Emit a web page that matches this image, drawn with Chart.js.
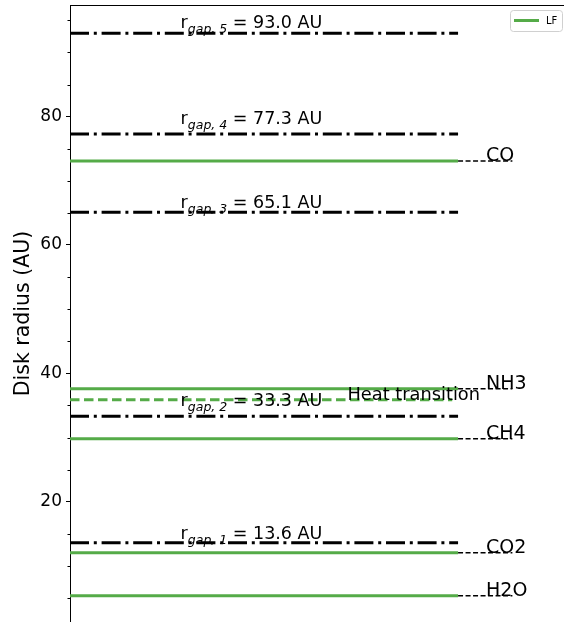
<!DOCTYPE html>
<html>
<head>
<meta charset="utf-8">
<script src="https://cdn.jsdelivr.net/npm/chart.js@4.4.1/dist/chart.umd.min.js"></script>
<style>
  html, body { margin: 0; padding: 0; background: #fff; overflow: hidden; }
  #wrap { width: 564px; height: 622px; position: relative; }
</style>
</head>
<body>
<div id="wrap"><canvas id="diskChart"></canvas></div>
<script>
// gap radii (AU) and where their labels sit
const gapIds = ['1', '2', '3', '4', '5'];
const gapRadii = [13.6, 33.3, 65.1, 77.3, 93.0];
const gapLabelAt = [14.2, 34.9, 65.8, 78.85, 93.8];

// ice lines for the LF model (AU)
const species = ['H2O', 'CO2', 'CH4', 'NH3', 'CO'];
const speciesRadii = [5.35, 12.05, 29.8, 37.6, 73.1];

const heatLabel = 'Heat transition';
const heatRadius = 35.9;

const majorTicks = [20, 40, 60, 80];
const minorTicks = [5, 10, 15, 25, 30, 35, 45, 50, 55, 65, 70, 75, 85, 90, 95];

const GREEN = '#55ab48';
const FONT = 'DejaVu Sans';

const datasets = [];

speciesRadii.forEach((r, i) => {
    datasets.push({
        label: i === 0 ? 'LF' : '_' + species[i],
        data: [{x: 0, y: r}, {x: 1, y: r}],
        borderColor: GREEN,
        borderWidth: 3,
        pointRadius: 0
    });
    // thin dashed leader out to the label
    datasets.push({
        label: '_lead' + i,
        data: [{x: 1, y: r}, {x: 1.14, y: r}],
        borderColor: '#000',
        borderWidth: 1.5,
        borderDash: [5, 2.5],
        pointRadius: 0
    });
});

datasets.push({
    label: '_heat',
    data: [{x: 0, y: heatRadius}, {x: 0.985, y: heatRadius}],
    borderColor: GREEN,
    borderWidth: 3,
    borderDash: [9.5, 4.5],
    pointRadius: 0
});

gapRadii.forEach((r, i) => {
    datasets.push({
        label: '_gap' + gapIds[i],
        data: [{x: 0, y: r}, {x: 1, y: r}],
        borderColor: '#000',
        borderWidth: 3,
        borderDash: [19, 4.8, 3, 4.8],
        borderCapStyle: 'butt',
        pointRadius: 0
    });
});

const textPlugin = {
    id: 'textPlugin',
    afterDatasetsDraw(chart) {
        const {ctx, chartArea, scales: {x, y}} = chart;
        ctx.save();

        // top spine
        ctx.strokeStyle = '#000';
        ctx.lineWidth = 1;
        ctx.beginPath();
        ctx.moveTo(chartArea.left, chartArea.top + 0.5);
        ctx.lineTo(chartArea.right, chartArea.top + 0.5);
        ctx.stroke();

        // minor ticks
        minorTicks.forEach(v => {
            const py = Math.round(y.getPixelForValue(v)) + 0.5;
            ctx.beginPath();
            ctx.moveTo(chartArea.left - 2.5, py);
            ctx.lineTo(chartArea.left, py);
            ctx.stroke();
        });

        ctx.fillStyle = '#000';
        ctx.textBaseline = 'alphabetic';

        // gap labels
        gapRadii.forEach((r, i) => {
            let px = x.getPixelForValue(0.285);
            const py = y.getPixelForValue(gapLabelAt[i]);
            ctx.font = '17.5px "' + FONT + '"';
            ctx.fillText('r', px, py);
            px += ctx.measureText('r').width;
            ctx.font = 'italic 12.5px "' + FONT + '"';
            const sub = 'gap, ' + gapIds[i];
            ctx.fillText(sub, px, py + 5);
            px += ctx.measureText(sub).width;
            ctx.font = '17.5px "' + FONT + '"';
            ctx.fillText(' = ' + r.toFixed(1) + ' AU', px, py);
        });

        // species labels
        ctx.font = '19px "' + FONT + '"';
        species.forEach((s, i) => {
            ctx.fillText(s, x.getPixelForValue(1.072), y.getPixelForValue(speciesRadii[i]));
        });

        // heat transition
        ctx.font = '17.8px "' + FONT + '"';
        ctx.fillText(heatLabel, x.getPixelForValue(0.715), y.getPixelForValue(heatRadius));

        // legend box
        const lx = chartArea.right - 54, ly = chartArea.top + 5, lw = 52, lh = 21;
        ctx.fillStyle = 'rgba(255,255,255,0.8)';
        ctx.strokeStyle = '#d0d0d0';
        ctx.lineWidth = 1;
        ctx.beginPath();
        ctx.roundRect(lx + 0.5, ly + 0.5, lw, lh, 3);
        ctx.fill();
        ctx.stroke();
        ctx.strokeStyle = GREEN;
        ctx.lineWidth = 3;
        ctx.beginPath();
        ctx.moveTo(lx + 4, ly + 10.5);
        ctx.lineTo(lx + 29, ly + 10.5);
        ctx.stroke();
        ctx.fillStyle = '#000';
        ctx.font = '10px "' + FONT + '"';
        ctx.textBaseline = 'middle';
        ctx.fillText('LF', lx + 36, ly + 11);

        ctx.restore();
    }
};

new Chart(document.getElementById('diskChart'), {
    type: 'line',
    data: { datasets: datasets },
    options: {
        responsive: true,
        maintainAspectRatio: false,
        animation: false,
        layout: { padding: { top: 5, left: 0, right: 0, bottom: 0 } },
        plugins: {
            legend: { display: false },
            tooltip: { enabled: false }
        },
        scales: {
            x: {
                type: 'linear',
                min: 0,
                max: 1.273,
                display: false
            },
            y: {
                type: 'linear',
                min: 1.25,
                max: 97.4,
                afterBuildTicks: scale => {
                    scale.ticks = majorTicks.map(v => ({value: v}));
                },
                afterFit: scale => {
                    scale.width = 70;
                    scale.paddingTop = 0;
                    scale.paddingBottom = 0;
                },
                grid: {
                    drawOnChartArea: false,
                    tickLength: 4,
                    tickColor: '#000',
                    tickWidth: 1
                },
                border: { display: true, color: '#000', width: 1 },
                ticks: {
                    color: '#000',
                    padding: 4,
                    font: { family: FONT, size: 17 }
                },
                title: {
                    display: true,
                    text: 'Disk radius (AU)',
                    color: '#000',
                    padding: { top: 11, bottom: 0 },
                    font: { family: FONT, size: 20.5 }
                }
            }
        }
    },
    plugins: [textPlugin]
});
</script>
</body>
</html>
